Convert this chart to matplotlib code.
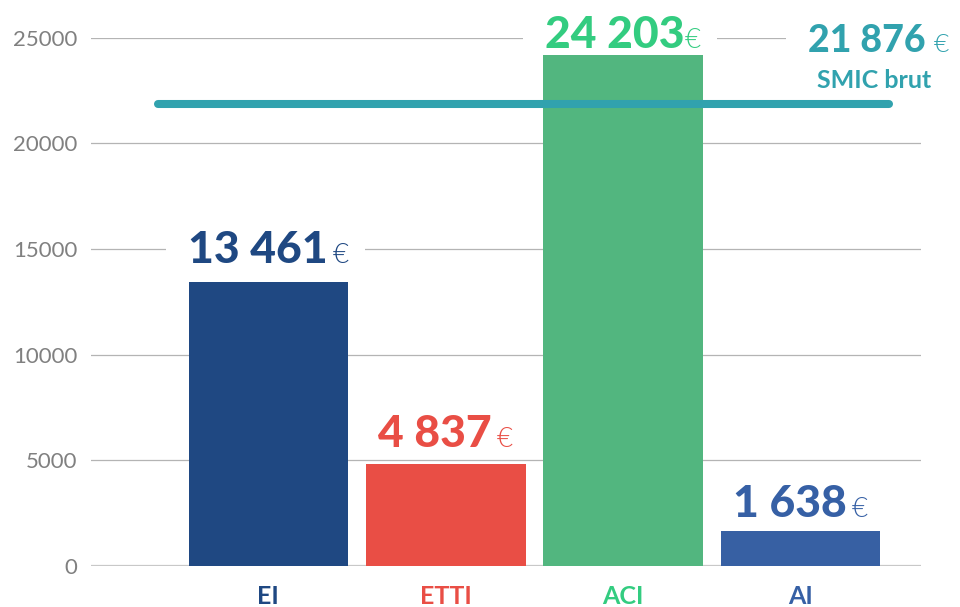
import matplotlib
matplotlib.use("Agg")
import matplotlib.pyplot as plt
from matplotlib.patches import Rectangle
from matplotlib.transforms import IdentityTransform

plt.rcParams['font.family'] = ['Lato', 'DejaVu Sans']

# data ---------------------------------------------------------------
categories = ['EI', 'ETTI', 'ACI', 'AI']
values = [13461, 4837, 24203, 1638]
value_labels = ['13 461', '4 837', '24 203', '1 638']
smic_value = 21876
smic_label = '21 876'
smic_text = 'SMIC brut'
yticks = [0, 5000, 10000, 15000, 20000, 25000]

# styles -------------------------------------------------------------
bar_colors = ['#1F4882', '#E94E45', '#52B67F', '#3760A3']
text_colors = ['#1F4882', '#E94E45', '#33CC80', '#3660A5']
smic_color = '#31A2AE'
label_offsets = [13, 12, 5, 10]   # points above bar top
euro_gaps = [5, 5, 0, 5]          # pixels between number and euro sign

DPI = 100
fig = plt.figure(figsize=(9.6, 6.07), dpi=DPI)
ax = fig.add_axes([91 / 960, 41 / 607, 830 / 960, 528.3 / 607])

x = list(range(len(categories)))
ax.bar(x, values, width=0.9, color=bar_colors, zorder=2)

ax.set_xlim(-1.0, 3.68)
ax.set_ylim(0, 25000)
ax.set_yticks(yticks)
ax.set_yticklabels([str(t) for t in yticks], fontsize=16, color='#808080')
ax.set_xticks(x)
ax.set_xticklabels(categories, fontsize=18, fontweight='bold')
for lab, c in zip(ax.get_xticklabels(), text_colors):
    lab.set_color(c)
ax.tick_params(axis='both', length=0)
ax.tick_params(axis='y', pad=10)
ax.tick_params(axis='x', pad=14)
for s in ax.spines.values():
    s.set_visible(False)
ax.set_axisbelow(True)
ax.yaxis.grid(True, color='#b4b4b4', linewidth=0.9)
ax.axhline(0, color='#c8c8c8', linewidth=1.6, zorder=1)

# SMIC line
ax.plot([-0.62, 3.5], [smic_value, smic_value], color=smic_color,
        linewidth=5.8, solid_capstyle='round', zorder=4)

# value labels: bold number + thin euro sign --------------------------
pairs = []
for i, (v, lab, c, off) in enumerate(zip(values, value_labels, text_colors, label_offsets)):
    num = ax.annotate(lab, (i, v), xytext=(0, off), textcoords='offset points',
                      ha='left', va='baseline', fontsize=32, fontweight='black',
                      color=c, zorder=3, annotation_clip=False)
    eur = ax.annotate('€', (i, v), xytext=(0, off), textcoords='offset points',
                      ha='left', va='baseline', fontsize=20, fontweight=300,
                      color=c, zorder=3, annotation_clip=False)
    pairs.append((num, eur, off, euro_gaps[i]))

smic_num = ax.annotate(smic_label, (3.44, smic_value), xytext=(0, 37),
                       textcoords='offset points', ha='left', va='baseline',
                       fontsize=27, fontweight='black', color=smic_color,
                       zorder=3, annotation_clip=False)
smic_eur = ax.annotate('€', (3.44, smic_value), xytext=(0, 37),
                       textcoords='offset points', ha='left', va='baseline',
                       fontsize=19, fontweight=300, color=smic_color,
                       zorder=3, annotation_clip=False)
pairs.append((smic_num, smic_eur, 37, 8))
ax.annotate(smic_text, (3.44, smic_value), xytext=(-3, 11),
            textcoords='offset points', ha='center', va='baseline',
            fontsize=18, fontweight='bold', color=smic_color, zorder=3,
            annotation_clip=False)

fig.canvas.draw()
r = fig.canvas.get_renderer()
px2pt = 72 / DPI
for num, eur, off, gap in pairs:
    wn = num.get_window_extent(r).width
    we = eur.get_window_extent(r).width
    total = wn + gap + we
    num.xyann = (-total / 2 * px2pt, off)
    eur.xyann = ((-total / 2 + wn + gap) * px2pt, off)

# white boxes behind the labels cut the gridlines
fig.canvas.draw()
for num, eur, off, gap in pairs:
    b1 = num.get_window_extent(r)
    b2 = eur.get_window_extent(r)
    x0 = min(b1.x0, b2.x0) - 22
    x1 = max(b1.x1, b2.x1) + 16
    y0 = min(b1.y0, b2.y0)
    y1 = max(b1.y1, b2.y1)
    rect = Rectangle((x0, y0), x1 - x0, y1 - y0, transform=IdentityTransform(),
                     facecolor='white', edgecolor='none', zorder=1.5, clip_on=False)
    ax.add_artist(rect)

fig.savefig('out.png', dpi=DPI, facecolor='white')
